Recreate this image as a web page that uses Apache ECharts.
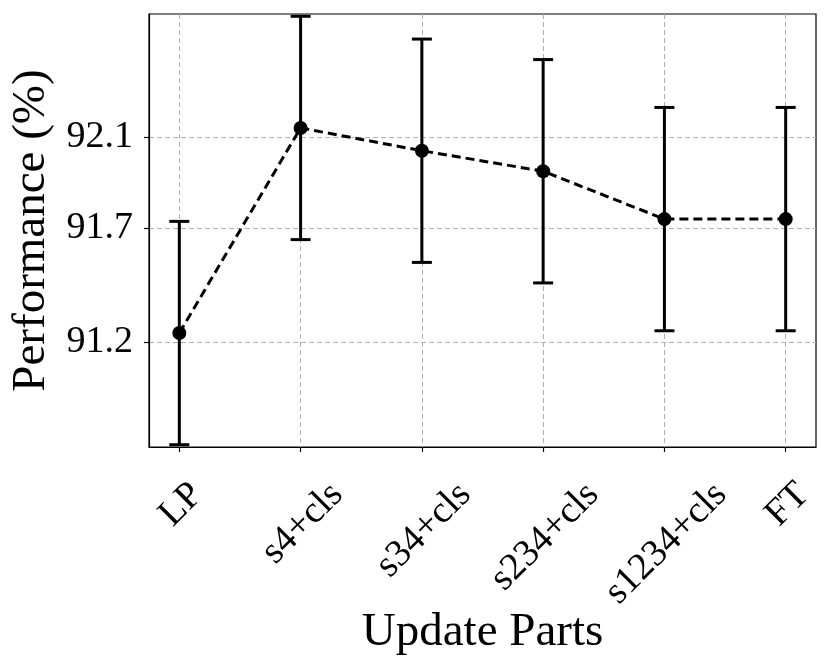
<!DOCTYPE html>
<html>
<head>
<meta charset="utf-8">
<script src="https://cdn.jsdelivr.net/npm/echarts@6/dist/echarts.min.js"></script>
<style>
  html, body { margin: 0; padding: 0; background: #fff; }
  #chart { width: 830px; height: 667px; }
</style>
</head>
<body>
<div id="chart"></div>
<script>
// data
const categories = ['LP', 's4+cls', 's34+cls', 's234+cls', 's1234+cls', 'FT'];
const performance = [91.24, 92.14, 92.04, 91.95, 91.74, 91.74];
const errors = [0.49, 0.49, 0.49, 0.49, 0.49, 0.49];
const yTicks = [91.2, 91.7, 92.1];
const yMin = 90.74;
const yMax = 92.64;

const FONT = '"Liberation Serif", "Times New Roman", serif';
const tickFont = 38;
const titleFont = 47;
const xTicks = categories.map((_, i) => i);

// text width, to place the rotated labels like matplotlib (bbox centred on tick)
const ctx = document.createElement('canvas').getContext('2d');
ctx.font = tickFont + 'px ' + FONT;
const textWidth = (s) => ctx.measureText(s).width;

const chart = echarts.init(document.getElementById('chart'));

const option = {
  animation: false,
  grid: { left: 149, right: 14, top: 14, bottom: 220, show: true, borderColor: '#000', borderWidth: 1.2, backgroundColor: 'transparent' },
  xAxis: {
    type: 'value',
    min: -0.25,
    max: 5.25,
    name: 'Update Parts',
    nameLocation: 'middle',
    nameGap: 162,
    nameTextStyle: { fontFamily: FONT, fontSize: titleFont, color: '#000' },
    axisLine: { show: true, onZero: false, lineStyle: { color: '#000', width: 1.2 } },
    axisTick: { show: true, length: 5, lineStyle: { color: '#000', width: 1.2 }, customValues: xTicks },
    axisLabel: { show: false, customValues: xTicks },
    splitLine: { show: true, lineStyle: { color: '#b0b0b0', type: [5, 3], width: 1 } }
  },
  yAxis: {
    type: 'value',
    min: yMin,
    max: yMax,
    name: 'Performance (%)',
    nameLocation: 'middle',
    nameGap: 88,
    nameTextStyle: { fontFamily: FONT, fontSize: titleFont, color: '#000' },
    axisLine: { show: true, onZero: false, lineStyle: { color: '#000', width: 1.2 } },
    axisTick: { show: true, length: 5, lineStyle: { color: '#000', width: 1.2 }, customValues: yTicks },
    axisLabel: { customValues: yTicks, margin: 16, fontFamily: FONT, fontSize: tickFont, color: '#000',
      formatter: (v) => v.toFixed(1) },
    splitLine: { show: true, lineStyle: { color: '#b0b0b0', type: [5, 3], width: 1 } }
  },
  series: [
    {
      // error bars with caps
      type: 'custom',
      z: 2,
      data: performance.map((v, i) => [i, v - errors[i], v + errors[i]]),
      renderItem: (params, api) => {
        const lo = api.coord([api.value(0), api.value(1)]);
        const hi = api.coord([api.value(0), api.value(2)]);
        const cap = 10;
        const style = { stroke: '#000', lineWidth: 3 };
        return {
          type: 'group',
          children: [
            { type: 'line', shape: { x1: lo[0], y1: lo[1], x2: hi[0], y2: hi[1] }, style },
            { type: 'line', shape: { x1: lo[0] - cap, y1: lo[1], x2: lo[0] + cap, y2: lo[1] }, style },
            { type: 'line', shape: { x1: hi[0] - cap, y1: hi[1], x2: hi[0] + cap, y2: hi[1] }, style }
          ]
        };
      }
    },
    {
      type: 'line',
      z: 3,
      data: performance.map((v, i) => [i, v]),
      symbol: 'circle',
      symbolSize: 14,
      itemStyle: { color: '#000' },
      lineStyle: { color: '#000', width: 3, type: [9, 5] }
    },
    {
      // rotated category labels under the x axis
      type: 'custom',
      z: 4,
      silent: true,
      data: categories.map((c, i) => [i, yMin]),
      renderItem: (params, api) => {
        const p = api.coord([api.value(0), api.value(1)]);
        const text = categories[params.dataIndex];
        const w = textWidth(text);
        return {
          type: 'text',
          x: p[0] + 2,
          y: p[1] + 42 + w / (2 * Math.SQRT2),
          rotation: Math.PI / 4,
          style: {
            text,
            fontFamily: FONT,
            fontSize: tickFont,
            fill: '#000',
            align: 'center',
            verticalAlign: 'middle'
          }
        };
      }
    }
  ]
};

chart.setOption(option);
</script>
</body>
</html>
